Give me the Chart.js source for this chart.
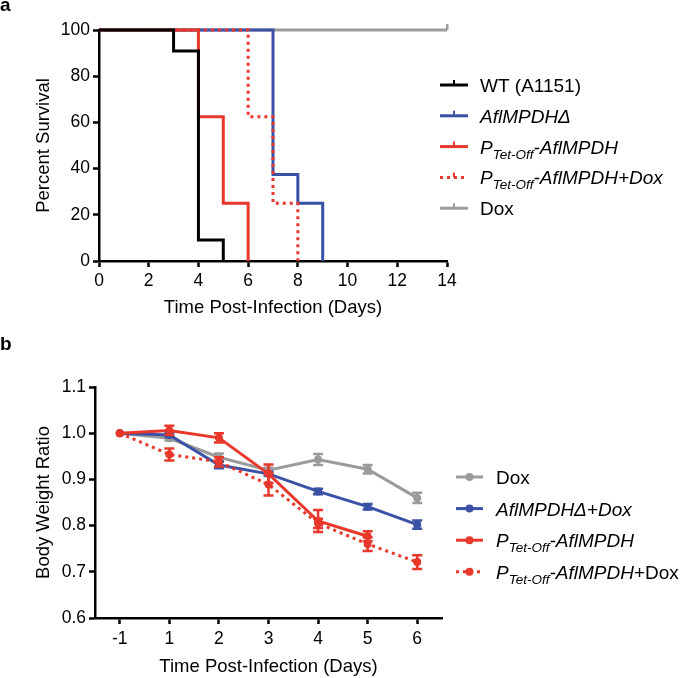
<!DOCTYPE html>
<html>
<head>
<meta charset="utf-8">
<script src="https://cdn.jsdelivr.net/npm/chart.js@4.4.0/dist/chart.umd.min.js"></script>
<style>
body { margin: 0; background: #fff; }
#wrap { position: relative; width: 685px; height: 678px; font-family: 'Liberation Sans', Arial, sans-serif; }
.panel { position: absolute; left: 0; width: 685px; }
.tag { position: absolute; left: 0; font-weight: bold; font-size: 19px; line-height: 19px; }
</style>
</head>
<body>
<div id="wrap">
  <div class="panel" style="top:0;height:330px"><canvas id="survival"></canvas></div>
  <div class="panel" style="top:330px;height:348px"><canvas id="weight"></canvas></div>
  <div class="tag" style="top:-5px">a</div>
  <div class="tag" style="top:334px">b</div>
</div>
<script>
var FONT = "'Liberation Sans', Arial, sans-serif";

// ---- panel a : survival (Kaplan-Meier steps) ----
var survTicks = [0, 2, 4, 6, 8, 10, 12, 14];
var wtDays = [0, 3, 4, 5];
var wtSurv = [100, 90.9, 9.1, 0];
var delDays = [0, 7, 8, 9];
var delSurv = [100, 37.5, 25, 0];
var tetDays = [0, 4, 5, 6];
var tetSurv = [100, 62.5, 25, 0];
var tetDoxDays = [0, 6, 7, 8];
var tetDoxSurv = [100, 62.5, 25, 0];
var doxDays = [0, 14];
var doxSurv = [100, 100];

// legend names, [text, style] where i = italic, s = subscript
var survNames = [
    [['WT (A1151)', '']],
    [['AflMPDHΔ', 'i']],
    [['P', 'i'], ['Tet-Off', 'is'], ['-AflMPDH', 'i']],
    [['P', 'i'], ['Tet-Off', 'is'], ['-AflMPDH+Dox', 'i']],
    [['Dox', '']]
];

// ---- panel b : body weight ----
var dayLabels = ['-1', '1', '2', '3', '4', '5', '6'];
var doxWeight = [1.0, 0.989, 0.948, 0.92, 0.943, 0.922, 0.86];
var doxErr = [0, 0.005, 0.008, 0.005, 0.012, 0.009, 0.011];
var delDoxWeight = [1.0, 0.996, 0.931, 0.912, 0.874, 0.841, 0.802];
var delDoxErr = [0, 0.004, 0.007, 0.004, 0.006, 0.006, 0.009];
var tetWeight = [1.0, 1.006, 0.99, 0.912, 0.81, 0.777];
var tetErr = [0, 0.01, 0.01, 0.02, 0.024, 0.011];
var tetDoxWeight = [1.0, 0.954, 0.938, 0.889, 0.805, 0.76, 0.721];
var tetDoxErr = [0, 0.013, 0.01, 0.024, 0.01, 0.015, 0.015];
var weightNames = [
    [['Dox', '']],
    [['AflMPDHΔ+Dox', 'i']],
    [['P', 'i'], ['Tet-Off', 'is'], ['-AflMPDH', 'i']],
    [['P', 'i'], ['Tet-Off', 'is'], ['-AflMPDH', 'i'], ['+Dox', '']]
];

var BLACK = '#000000';
var BLUE = '#3a51a6';
var RED = '#e8372b';
var GREY = '#9b9b9b';

Chart.defaults.font.family = FONT;
Chart.defaults.font.size = 17.5;
Chart.defaults.color = '#000';
Chart.defaults.animation = false;

function pairs(xs, ys) {
    var out = [];
    for (var i = 0; i < xs.length; i++) out.push({ x: xs[i], y: ys[i] });
    return out;
}

// little upward tick for the censored end of a survival curve
var censorTick = document.createElement('canvas');
censorTick.width = 4;
censorTick.height = 14;
(function () {
    var c = censorTick.getContext('2d');
    c.fillStyle = GREY;
    c.fillRect(1, 1, 2.5, 6);
})();

// legend drawn beside the plot, with italic / subscript pieces
var sideLegend = {
    id: 'sideLegend',
    afterDraw: function (chart, args, opts) {
        var ctx = chart.ctx;
        ctx.save();
        chart.data.datasets.forEach(function (ds, i) {
            var y = opts.y + i * opts.gap;
            ctx.strokeStyle = ds.borderColor;
            ctx.fillStyle = ds.borderColor;
            ctx.lineWidth = 3;
            ctx.setLineDash(ds.borderDash || []);
            ctx.beginPath();
            ctx.moveTo(opts.x, y);
            ctx.lineTo(opts.x + opts.len, y);
            ctx.stroke();
            ctx.setLineDash([]);
            var mid = opts.x + opts.len / 2;
            if (opts.marker == 'tick') {
                ctx.lineWidth = 2;
                ctx.beginPath();
                ctx.moveTo(mid, y);
                ctx.lineTo(mid, y - 5);
                ctx.stroke();
            } else {
                ctx.beginPath();
                ctx.arc(mid, y, 4, 0, Math.PI * 2);
                ctx.fill();
            }
            var tx = opts.x + opts.len + opts.space;
            ctx.fillStyle = '#000';
            ctx.textBaseline = 'alphabetic';
            opts.names[i].forEach(function (seg) {
                var sub = seg[1].indexOf('s') >= 0;
                var ital = seg[1].indexOf('i') >= 0;
                var size = sub ? 13.5 : 19;
                ctx.font = (ital ? 'italic ' : '') + size + 'px ' + FONT;
                ctx.fillText(seg[0], tx, y + 7 + (sub ? 5 : 0));
                tx += ctx.measureText(seg[0]).width;
            });
        });
        ctx.restore();
    }
};

var errorBars = {
    id: 'errorBars',
    afterDatasetDraw: function (chart, args) {
        var ds = chart.data.datasets[args.index];
        if (!ds.errors) return;
        var ys = chart.scales.y;
        var ctx = chart.ctx;
        ctx.save();
        ctx.strokeStyle = ds.borderColor;
        ctx.lineWidth = 2.5;
        args.meta.data.forEach(function (pt, i) {
            var e = ds.errors[i];
            if (!e) return;
            var top = ys.getPixelForValue(ds.data[i] + e);
            var bot = ys.getPixelForValue(ds.data[i] - e);
            ctx.beginPath();
            ctx.moveTo(pt.x, top);
            ctx.lineTo(pt.x, bot);
            ctx.moveTo(pt.x - 5, top);
            ctx.lineTo(pt.x + 5, top);
            ctx.moveTo(pt.x - 5, bot);
            ctx.lineTo(pt.x + 5, bot);
            ctx.stroke();
        });
        ctx.restore();
    }
};

function axisStyle() {
    return {
        grid: { drawOnChartArea: false, drawTicks: true, tickLength: 6, tickWidth: 2.5, tickColor: '#000' },
        border: { display: true, color: '#000', width: 2.5 }
    };
}

function kmSet(label, pts, color, order, dash) {
    return {
        label: label,
        data: pts,
        borderColor: color,
        backgroundColor: color,
        borderWidth: 3,
        borderDash: dash || [],
        stepped: true,
        pointRadius: 0,
        order: order,
        clip: false
    };
}

var doxSet = kmSet('Dox', pairs(doxDays, doxSurv), GREY, 4);
doxSet.pointStyle = censorTick;
doxSet.pointRadius = [0, 4];

var xa = axisStyle();
xa.type = 'linear';
xa.min = 0;
xa.max = 14;
xa.ticks = { stepSize: 2, padding: 4 };
xa.afterBuildTicks = function (s) { s.ticks = survTicks.map(function (v) { return { value: v }; }); };
xa.title = { display: true, text: 'Time Post-Infection (Days)', font: { size: 18.5 }, padding: { top: 0, bottom: 11 } };
xa.afterFit = function (s) { s.height = 69; };

var ya = axisStyle();
ya.min = 0;
ya.max = 100;
ya.ticks = { stepSize: 20, padding: 3 };
ya.title = { display: true, text: 'Percent Survival', font: { size: 18.5 }, padding: { top: 33, bottom: 0 } };
ya.afterFit = function (s) { s.width = 99; };

new Chart(document.getElementById('survival'), {
    type: 'line',
    data: {
        datasets: [
            kmSet('WT (A1151)', pairs(wtDays, wtSurv), BLACK, 0),
            kmSet('AflMPDHΔ', pairs(delDays, delSurv), BLUE, 3),
            kmSet('PTet-Off-AflMPDH', pairs(tetDays, tetSurv), RED, 1),
            kmSet('PTet-Off-AflMPDH+Dox', pairs(tetDoxDays, tetDoxSurv), RED, 2, [3, 4]),
            doxSet
        ]
    },
    options: {
        responsive: true,
        maintainAspectRatio: false,
        layout: { padding: { top: 30, right: 238, left: 0, bottom: 0 } },
        plugins: {
            legend: { display: false },
            tooltip: { enabled: false },
            sideLegend: { x: 440, y: 85, gap: 30.8, len: 28, space: 12, marker: 'tick', names: survNames }
        },
        scales: { x: xa, y: ya }
    },
    plugins: [sideLegend]
});

function wSet(label, data, errs, color, order, dash) {
    return {
        label: label,
        data: data,
        errors: errs,
        borderColor: color,
        backgroundColor: color,
        borderWidth: 3,
        borderDash: dash || [],
        pointRadius: 4,
        pointBorderWidth: 0,
        order: order,
        clip: false
    };
}

var xb = axisStyle();
xb.type = 'category';
xb.offset = true;
xb.grid.offset = false;
xb.ticks = { padding: 5 };
xb.title = { display: true, text: 'Time Post-Infection (Days)', font: { size: 18.5 }, padding: { top: 0, bottom: 0 } };
xb.afterFit = function (s) { s.height = 60; };

var yb = axisStyle();
yb.min = 0.6;
yb.max = 1.1;
yb.ticks = { stepSize: 0.1, padding: 3, callback: function (v) { return Number(v).toFixed(1); } };
yb.title = { display: true, text: 'Body Weight Ratio', font: { size: 18.5 }, padding: { top: 33, bottom: 0 } };
yb.afterFit = function (s) { s.width = 95; };

new Chart(document.getElementById('weight'), {
    type: 'line',
    data: {
        labels: dayLabels,
        datasets: [
            wSet('Dox', doxWeight, doxErr, GREY, 3),
            wSet('AflMPDHΔ+Dox', delDoxWeight, delDoxErr, BLUE, 2),
            wSet('PTet-Off-AflMPDH', tetWeight, tetErr, RED, 0),
            wSet('PTet-Off-AflMPDH+Dox', tetDoxWeight, tetDoxErr, RED, 1, [3, 4])
        ]
    },
    options: {
        responsive: true,
        maintainAspectRatio: false,
        layout: { padding: { top: 57, right: 243, left: 0, bottom: 0 } },
        plugins: {
            legend: { display: false },
            tooltip: { enabled: false },
            sideLegend: { x: 456, y: 147, gap: 31.6, len: 27, space: 13, marker: 'dot', names: weightNames }
        },
        scales: { x: xb, y: yb }
    },
    plugins: [sideLegend, errorBars]
});
</script>
</body>
</html>
